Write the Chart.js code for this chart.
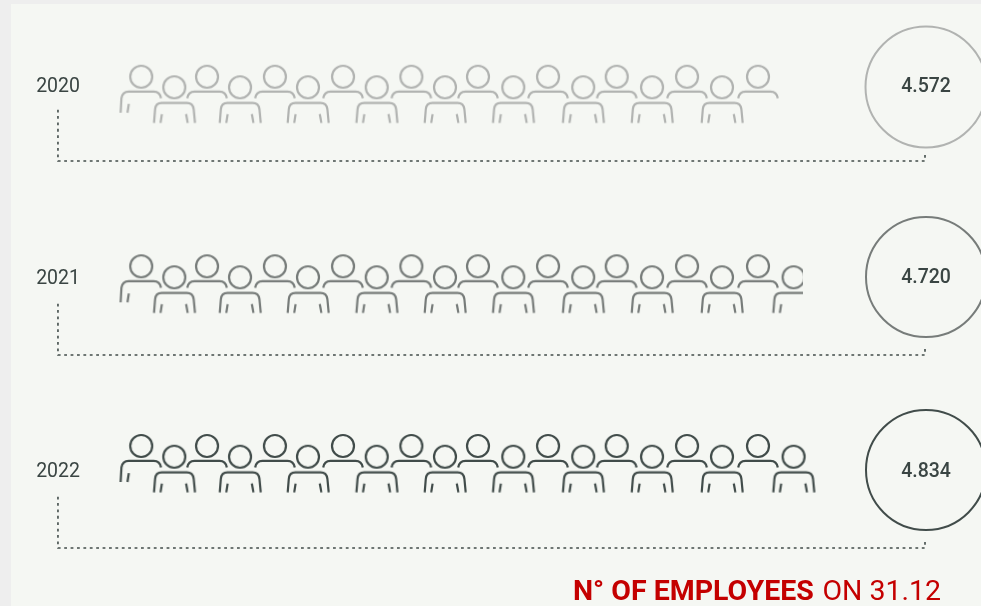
<!DOCTYPE html>
<html lang="en">
<head>
<meta charset="utf-8">
<title>Employees on 31.12</title>
<script src="https://cdn.jsdelivr.net/npm/chart.js@4"></script>
<style>
  html,body{margin:0;padding:0;width:981px;height:606px;overflow:hidden;background:#eeeeee}
  #panel{position:absolute;left:11px;top:4px;right:0;bottom:0;background:#f5f7f3}
  #c{position:absolute;left:0;top:0}
</style>
</head>
<body>
<div id="panel"></div>
<canvas id="c" width="981" height="606"></canvas>
<script>
/* values */
const YEARS = ['2020', '2021', '2022'];
const TOTALS = ['4.572', '4.720', '4.834'];
const ICON_COUNTS = [19, 20, 20];
// each figure sits somewhere on the head-count axis, odd ones are the lower row
const ICON_EMPLOYEES = [141, 371, 599, 829, 1072, 1302, 1546, 1781, 2022, 2256,
                        2486, 2732, 2974, 3219, 3452, 3698, 3942, 4185, 4436, 4684];

/* layout */
const COLORS = ['#b1b3b1', '#777c7a', '#414c4a'];
const TEXT = '#3a4543';
const RED = '#c40000';
const LEFT_GUTTER = 121;
const X_MAX = 5989;            // head-count scale runs on to the right edge
const UPPER_Y = [76.7, 266.3, 446];
const LOWER_Y = [87.3, 277.3, 456.7];
const LABEL_Y = [87, 279, 472.5];
const TOTAL_Y = [87, 278, 472];
const CIRCLE_X = 5606, CIRCLE_Y = [87, 277, 470], CIRCLE_R = [60.5, 60, 60];
const LINK_LEFT = -439, LINK_RIGHT = 5599;
const LINK_TOP = [108, 302, 495], LINK_BOTTOM = [161, 355, 548], LINK_END = [155, 349, 542];
const ROW_CUT = [false, -178, false];   // 2021 stops in the middle of the last figure

/* ── figures, drawn around the head centre ─────────────── */
function mkIcon(kind, color){
  const c = document.createElement('canvas');
  c.width = 80; c.height = 100;
  const g = c.getContext('2d');
  g.translate(40, 50);
  g.strokeStyle = color; g.lineWidth = 2.2; g.lineCap = 'butt'; g.lineJoin = 'round';
  const line = pts => {
    g.beginPath(); g.moveTo(pts[0][0], pts[0][1]);
    for(let i=1;i<pts.length;i++) g.lineTo(pts[i][0], pts[i][1]);
    g.stroke();
  };
  g.beginPath(); g.arc(0, 0, 11, 0, Math.PI*2); g.stroke();
  g.beginPath();
  if(kind === 'lower'){
    g.moveTo(-20.3,35.6); g.lineTo(-19.2,22); g.quadraticCurveTo(-18.6,15.6,-12.5,15.6);
    g.lineTo(12.5,15.6); g.quadraticCurveTo(18.6,15.6,19.4,22); g.lineTo(20.7,35.6);
    g.stroke();
    line([[-12.4,26.8],[-13.8,35.6]]);
    line([[11.8,26.8],[13.4,35.6]]);
  } else {
    if(kind === 'first'){ g.moveTo(-20.6,36); g.lineTo(-19.8,21.5); }
    else g.moveTo(-19.8,21.5);
    g.quadraticCurveTo(-18.8,14.8,-12.5,14.8);
    g.lineTo(12.5,14.8); g.quadraticCurveTo(18.8,14.8,19.8,21.5);
    g.stroke();
    if(kind === 'first') line([[-12.4,27.2],[-13.8,36]]);
  }
  return c;
}

/* ── one dataset per row of figures ────────────────────── */
function mkRow(r){
  const first = mkIcon('first', COLORS[r]), arch = mkIcon('arch', COLORS[r]), lower = mkIcon('lower', COLORS[r]);
  const xs = ICON_EMPLOYEES.slice(0, ICON_COUNTS[r]);
  return {
    label: YEARS[r],
    data: xs.map((x,i)=>({ x, y: i%2 ? LOWER_Y[r] : UPPER_Y[r] })),
    pointStyle: xs.map((x,i)=> i === 0 ? first : (i%2 ? lower : arch)),
    pointRadius: 1,
    clip: { left:false, top:false, bottom:false, right:ROW_CUT[r] }
  };
}

function mkCircle(r){
  return {
    label: TOTALS[r],
    data: [{ x:CIRCLE_X, y:CIRCLE_Y[r] }],
    pointStyle: 'circle',
    pointRadius: CIRCLE_R[r],
    pointBorderWidth: 2,
    pointBorderColor: COLORS[r],
    pointBackgroundColor: 'transparent',
    clip: false
  };
}

function mkLink(r){
  return {
    label: 'link ' + YEARS[r],
    // right to left on purpose: sorted data gets its off-scale points trimmed
    data: [
      { x:LINK_RIGHT, y:LINK_END[r] }, { x:LINK_RIGHT, y:LINK_BOTTOM[r] },
      { x:LINK_LEFT, y:LINK_BOTTOM[r] }, { x:LINK_LEFT, y:LINK_TOP[r] }
    ],
    showLine: true,
    borderColor: '#414c4a',
    borderWidth: 1.6,
    borderDash: [2.8, 3.6],
    pointRadius: 0,
    clip: false
  };
}

/* ── totals in the circles and the red caption ─────────── */
const textPlugin = {
  id: 'texts',
  afterDatasetsDraw(chart){
    const { ctx, scales:{ x, y } } = chart;
    ctx.save();
    ctx.font = "500 19.5px Roboto, sans-serif";
    ctx.fillStyle = TEXT;
    ctx.textAlign = 'center'; ctx.textBaseline = 'middle';
    TOTALS.forEach((t,r)=> ctx.fillText(t, x.getPixelForValue(CIRCLE_X), y.getPixelForValue(TOTAL_Y[r])));
    ctx.textAlign = 'left'; ctx.textBaseline = 'alphabetic';
    ctx.fillStyle = RED;
    ctx.font = "700 28.5px Roboto, sans-serif";
    ctx.fillText('N° OF EMPLOYEES', 573, 599.5);
    ctx.font = "400 28.5px Roboto, sans-serif";
    ctx.fillText('ON 31.12', 822.5, 599.5);
    ctx.restore();
  }
};

const rows = YEARS.map((y,r)=>r);

new Chart(document.getElementById('c'), {
  type: 'scatter',
  data: { datasets: [...rows.map(mkLink), ...rows.map(mkRow), ...rows.map(mkCircle)] },
  plugins: [textPlugin],
  options: {
    responsive: false, animation: false, events: [],
    layout: { padding: 0, autoPadding: false },
    plugins: { legend:{display:false}, tooltip:{enabled:false}, title:{display:false} },
    scales: {
      x: { type:'linear', display:false, min:0, max:X_MAX },
      y: {
        type:'linear', min:0, max:606, reverse:true,
        grid:{display:false, drawTicks:false}, border:{display:false},
        afterBuildTicks: s => { s.ticks = LABEL_Y.map(value=>({value})); },
        // tick padding would otherwise shrink the plot height too
        afterFit: s => { s.width = LEFT_GUTTER; s.paddingTop = 0; s.paddingBottom = 0; },
        ticks: {
          autoSkip:false, padding:41, color:TEXT,
          font:{ family:'Roboto, sans-serif', size:19.5 },
          callback: (v,i) => YEARS[i]
        }
      }
    }
  }
});
</script>
</body>
</html>
